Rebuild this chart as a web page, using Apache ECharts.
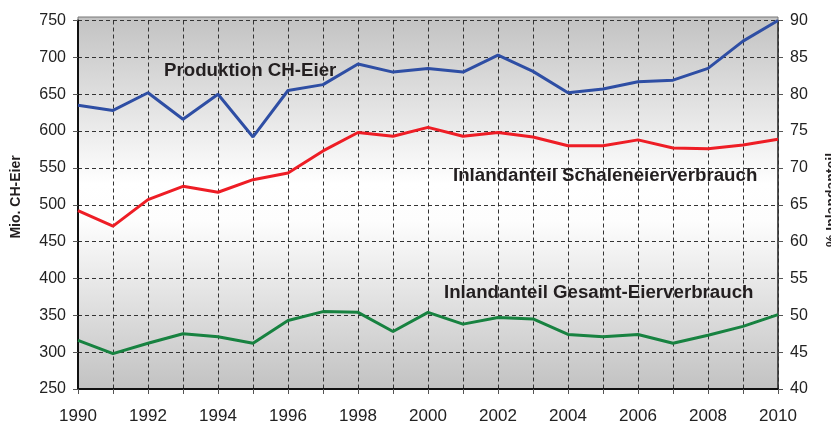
<!DOCTYPE html>
<html>
<head>
<meta charset="utf-8">
<script src="https://cdn.jsdelivr.net/npm/echarts@6/dist/echarts.min.js"></script>
<style>html,body{margin:0;padding:0;background:#fff}#c{width:831px;height:427px}</style>
</head>
<body>
<div id="c"></div>
<script>
const years = ['1990','1991','1992','1993','1994','1995','1996','1997','1998','1999','2000','2001','2002','2003','2004','2005','2006','2007','2008','2009','2010'];
const produktion = [635,628,652,616,650,592,655,663,691,680,685,680,703,681,652,657,667,669,685,722,750];
const schaleneier = [64.2,62.1,65.7,67.5,66.7,68.4,69.3,72.3,74.8,74.3,75.5,74.3,74.8,74.2,73.0,73.0,73.8,72.7,72.6,73.1,73.9];
const gesamt = [46.6,44.8,46.2,47.5,47.1,46.2,49.3,50.5,50.4,47.8,50.4,48.8,49.7,49.5,47.4,47.1,47.4,46.2,47.3,48.5,50.1];
const leftName = 'Mio. CH-Eier';
const rightName = '% Inlandanteil';
const labelProd = 'Produktion CH-Eier';
const labelSchale = 'Inlandanteil Schaleneierverbrauch';
const labelGesamt = 'Inlandanteil Gesamt-Eierverbrauch';

const chart = echarts.init(document.getElementById('c'));
const FONT = 'Liberation Sans, Arial, sans-serif';
const dash = {type:[4,3], color:'#333', width:1};
chart.setOption({
  animation:false,
  textStyle:{fontFamily:FONT},
  grid:{left:78, right:53, top:20.5, bottom:38, containLabel:false},
  graphic:[
    {type:'rect', z:-10, silent:true, shape:{x:78,y:17,width:700,height:372},
     style:{fill:new echarts.graphic.LinearGradient(0,0,0,1,[
       {offset:0,color:'#c2c2c2'},{offset:0.45,color:'#ffffff'},{offset:0.55,color:'#fdfdfd'},{offset:1,color:'#c2c2c2'}]),
       stroke:'#777', lineWidth:1}},
    {type:'text', left:164, top:61, z:10, style:{text:labelProd, font:'bold 18.7px '+FONT, fill:'#231f20'}},
    {type:'text', left:453, top:166, z:10, style:{text:labelSchale, font:'bold 18.7px '+FONT, fill:'#231f20'}},
    {type:'text', left:444, top:283, z:10, style:{text:labelGesamt, font:'bold 18.7px '+FONT, fill:'#231f20'}},
    {type:'text', x:16, y:197, rotation:Math.PI/2, z:10,
     style:{text:leftName, font:'bold 14px '+FONT, fill:'#231f20', align:'center', verticalAlign:'middle'}},
    {type:'text', x:832, y:200, rotation:Math.PI/2, z:10,
     style:{text:rightName, font:'bold 14px '+FONT, fill:'#231f20', align:'center', verticalAlign:'middle'}}
  ],
  xAxis:{
    type:'category', data:years, boundaryGap:false,
    axisLine:{show:true, lineStyle:{color:'#111', width:2}},
    axisTick:{show:true, interval:0, length:5, lineStyle:{color:'#555'}},
    axisLabel:{interval:1, fontSize:17, color:'#222', margin:19},
    splitLine:{show:true, interval:0, lineStyle:dash}
  },
  yAxis:[
    {type:'value', min:250, max:750, interval:50, position:'left',
     axisLine:{show:true, lineStyle:{color:'#111', width:2}},
     axisTick:{show:true, length:5, lineStyle:{color:'#555'}},
     axisLabel:{fontSize:16, color:'#222', margin:12},
     splitLine:{show:true, lineStyle:dash}},
    {type:'value', min:40, max:90, interval:5, position:'right',
     axisLine:{show:true, lineStyle:{color:'#333', width:1.5}},
     axisTick:{show:true, length:5, lineStyle:{color:'#555'}},
     axisLabel:{fontSize:16, color:'#222', margin:12},
     splitLine:{show:false}}
  ],
  series:[
    {type:'line', name:labelProd, data:produktion, yAxisIndex:0, symbol:'none',
     lineStyle:{color:'#2e4ea4', width:3}},
    {type:'line', name:labelSchale, data:schaleneier, yAxisIndex:1, symbol:'none',
     lineStyle:{color:'#ee1d25', width:3}},
    {type:'line', name:labelGesamt, data:gesamt, yAxisIndex:1, symbol:'none',
     lineStyle:{color:'#178240', width:3}}
  ]
});
</script>
</body>
</html>
